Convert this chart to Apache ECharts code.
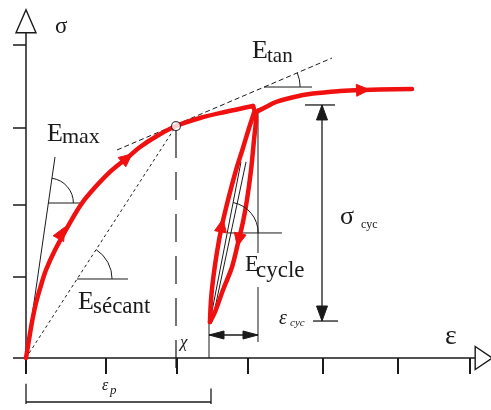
<!DOCTYPE html>
<html>
<head>
<meta charset="utf-8">
<script src="https://cdn.jsdelivr.net/npm/echarts@6/dist/echarts.min.js"></script>
<style>
  html, body { margin: 0; padding: 0; background: #ffffff; }
  #chart { width: 491px; height: 410px; }
</style>
</head>
<body>
<div id="chart"></div>
<script>
// ---- axis ticks (strain ε along x, stress σ along y) ----
const strainTicks = [0, 1.08, 2.04, 3.0, 4.01, 5.03, 6.0];
const stressTicks = [0, 1.04, 1.97, 2.95, 4.01];
const X_MAX = 6.07;
const Y_MAX = 4.17;

// ---- stress–strain path ----
const loadingBranch = [
  [0, 0], [0.040, 0.231], [0.081, 0.462], [0.135, 0.705], [0.196, 0.910],
  [0.270, 1.128], [0.392, 1.385], [0.554, 1.667], [0.730, 1.949], [0.865, 2.115],
  [1.135, 2.385], [1.365, 2.564], [1.541, 2.705], [1.770, 2.846], [2.027, 2.974],
  [2.351, 3.077], [2.689, 3.154], [3.068, 3.231]
];
const unloadingBranch = [
  [3.068, 3.231], [3.108, 3.077], [3.081, 2.795], [3.041, 2.410], [2.986, 2.026],
  [2.932, 1.744], [2.865, 1.474], [2.784, 1.167], [2.662, 0.872], [2.554, 0.590],
  [2.486, 0.462]
];
const reloadingBranch = [
  [2.486, 0.462], [2.500, 0.744], [2.527, 1.000], [2.581, 1.359], [2.649, 1.705],
  [2.730, 2.026], [2.838, 2.410], [2.932, 2.692], [3.014, 2.949], [3.081, 3.141]
];
const plateauBranch = [
  [3.081, 3.141], [3.216, 3.205], [3.378, 3.282], [3.595, 3.340], [3.878, 3.390],
  [4.243, 3.423], [4.554, 3.436], [5.216, 3.449]
];
const secantPoint = [2.027, 2.974];

// direction arrows sitting on the path
const loadingArrows = [[0.48, 1.603], [1.365, 2.564]];
const unloadingArrows = [[2.875, 1.513]];
const reloadingArrows = [[2.645, 1.700]];
const plateauArrows = [[4.554, 3.436]];

// ---- moduli construction lines ----
const eMaxLine = [[0, 0], [0.392, 2.577]];
const eMaxBase = [[0.297, 1.987], [0.730, 1.987]];
const secantLine = [[0, 0], [2.027, 2.974]];
const secantBase = [[0.689, 1.013], [1.378, 1.013]];
const tangentLine = [[1.230, 2.667], [4.135, 3.846]];
const tangentBase = [[3.216, 3.474], [3.865, 3.474]];
const cycleLineA = [[2.486, 0.462], [2.905, 2.513]];
const cycleLineB = [[2.514, 0.462], [2.973, 2.513]];
const cycleBase = [[2.730, 1.603], [3.459, 1.603]];

// ---- markers and dimension lines ----
const chiMarker = [[2.027, 2.923], [2.027, -0.192]];
const peakDrop = [[3.135, 3.205], [3.135, 1.346]];
const peakDropLow = [[3.135, 0.910], [3.135, 0.205]];
const residualDrop = [[2.473, 0.462], [2.473, 0]];
const epsCycDim = [[2.473, 0.295], [3.135, 0.295]];
const sigmaCycDim = [[4.0, 3.244], [4.0, 0.474]];
const sigmaCycTop = [[3.770, 3.244], [4.176, 3.244]];
const sigmaCycBottom = [[3.878, 0.474], [4.216, 0.474]];
const epsPDim = [[0, -0.564], [2.5, -0.564]];
const epsPLeft = [[0, -0.33], [0, -0.59]];
const epsPRight = [[2.5, -0.39], [2.5, -0.59]];

const RED = '#f01010';
const INK = '#1a1a1a';
const SERIF = '"Liberation Serif", "DejaVu Serif", serif';

const chart = echarts.init(document.getElementById('chart'), null, { renderer: 'canvas' });

const seg = (data, extra) => ({
  type: 'line', data, symbol: 'none', clip: false, silent: true, z: 3,
  lineStyle: Object.assign({ color: INK, width: 1, type: 'solid' }, extra || {})
});
const redPath = (data, smooth) => ({
  type: 'line', data, symbol: 'none', smooth: smooth, clip: false, silent: true, z: 4,
  lineStyle: { color: RED, width: 4.5, cap: 'round', join: 'round' }
});

chart.setOption({
  animation: false,
  grid: { left: 26, right: 491 - 26 - X_MAX * 74, top: 358 - Y_MAX * 78, bottom: 52,
          containLabel: false, outerBoundsMode: 'none' },
  xAxis: {
    type: 'value', min: 0, max: X_MAX,
    axisLine: { show: true, onZero: false, lineStyle: { color: INK, width: 1.5 } },
    axisTick: { show: true, length: 16, customValues: strainTicks, lineStyle: { color: INK, width: 2 } },
    axisLabel: { show: false }, splitLine: { show: false }
  },
  yAxis: {
    type: 'value', min: 0, max: Y_MAX,
    axisLine: { show: true, onZero: false, lineStyle: { color: INK, width: 1.5 } },
    axisTick: { show: true, length: 13, customValues: stressTicks, lineStyle: { color: INK, width: 1.5 } },
    axisLabel: { show: false }, splitLine: { show: false }
  },
  series: [
    seg(eMaxLine), seg(eMaxBase),
    seg(secantLine, { type: [3, 3] }), seg(secantBase),
    seg(tangentLine, { type: [5, 3] }), seg(tangentBase),
    seg(cycleLineA), seg(cycleLineB), seg(cycleBase),
    seg(chiMarker, { type: [28, 14], width: 1.2 }),
    seg(peakDrop), seg(peakDropLow), seg(residualDrop),
    seg(epsCycDim, { width: 1.3 }), seg(sigmaCycDim, { width: 1.3 }),
    seg(sigmaCycTop, { width: 1.3 }), seg(sigmaCycBottom, { width: 1.3 }),
    seg(epsPDim, { width: 1.3 }), seg(epsPLeft, { width: 1.3 }), seg(epsPRight, { width: 1.3 }),
    redPath(loadingBranch, 0.35),
    redPath(unloadingBranch, 0.3),
    redPath(reloadingBranch, 0.3),
    redPath(plateauBranch, 0.4),
    {
      type: 'scatter', data: [secantPoint], symbol: 'circle', symbolSize: 9, clip: false, z: 6,
      silent: true, itemStyle: { color: '#ffffff', borderColor: INK, borderWidth: 1.2 }
    }
  ]
});

// ---- overlay: arrowheads, angle arcs and labels placed through the axes ----
const px = p => chart.convertToPixel({ gridIndex: 0 }, p);
const unit = (a, b) => { const dx = b[0] - a[0], dy = b[1] - a[1]; const l = Math.hypot(dx, dy) || 1; return [dx / l, dy / l]; };

function head(c, u, len, wid, style) {
  const nx = -u[1], ny = u[0];
  const tip = [c[0] + u[0] * len / 2, c[1] + u[1] * len / 2];
  const bx = c[0] - u[0] * len / 2, by = c[1] - u[1] * len / 2;
  return { type: 'polygon', z: 50, silent: true,
    shape: { points: [tip, [bx + nx * wid / 2, by + ny * wid / 2], [bx - nx * wid / 2, by - ny * wid / 2]] },
    style };
}

function headingOn(branch, p) {
  const q = px(p);
  let best = null, bd = Infinity;
  for (let i = 0; i < branch.length - 1; i++) {
    const a = px(branch[i]), b = px(branch[i + 1]);
    const vx = b[0] - a[0], vy = b[1] - a[1];
    const L2 = vx * vx + vy * vy || 1;
    let t = ((q[0] - a[0]) * vx + (q[1] - a[1]) * vy) / L2;
    t = Math.max(0, Math.min(1, t));
    const d = Math.hypot(a[0] + t * vx - q[0], a[1] + t * vy - q[1]);
    if (d < bd) { bd = d; best = unit(a, b); }
  }
  return best;
}

const graphics = [];
const redFill = { fill: RED, stroke: RED, lineWidth: 1 };
[[loadingBranch, loadingArrows], [unloadingBranch, unloadingArrows],
 [reloadingBranch, reloadingArrows], [plateauBranch, plateauArrows]].forEach(([br, arrows]) => {
  arrows.forEach(p => graphics.push(head(px(p), headingOn(br, p), 13, 12, redFill)));
});

const inkFill = { fill: INK, stroke: INK, lineWidth: 1 };
function dimensionHeads(dim, len, wid) {
  const a = px(dim[0]), b = px(dim[1]);
  const u = unit(a, b);
  graphics.push(head([a[0] + u[0] * len / 2, a[1] + u[1] * len / 2], [-u[0], -u[1]], len, wid, inkFill));
  graphics.push(head([b[0] - u[0] * len / 2, b[1] - u[1] * len / 2], u, len, wid, inkFill));
}
dimensionHeads(sigmaCycDim, 15, 11);
dimensionHeads(epsCycDim, 15, 8);

// hollow arrowheads closing both axes
const yTop = px([0, Y_MAX]);
const xEnd = px([X_MAX, 0]);
const hollow = { fill: '#ffffff', stroke: INK, lineWidth: 1.4 };
graphics.push({ type: 'polygon', z: 50, silent: true, style: hollow,
  shape: { points: [[yTop[0], yTop[1] - 23], [yTop[0] - 10, yTop[1]], [yTop[0] + 10, yTop[1]]] } });
graphics.push({ type: 'polygon', z: 50, silent: true, style: hollow,
  shape: { points: [[xEnd[0] + 17, xEnd[1]], [xEnd[0], xEnd[1] - 11.5], [xEnd[0], xEnd[1] + 11.5]] } });

// angle arcs between each modulus line and its horizontal reference
function angleMark(line, base, r) {
  const a = line[0], b = line[1], y = base[0][1];
  const t = (y - a[1]) / (b[1] - a[1]);
  const c = px([a[0] + t * (b[0] - a[0]), y]);
  const pa = px(a), pb = px(b);
  const ang = Math.atan2(pb[1] - pa[1], pb[0] - pa[0]);
  return { type: 'arc', z: 50, silent: true,
    shape: { cx: c[0], cy: c[1], r, startAngle: ang, endAngle: 0, clockwise: true },
    style: { stroke: INK, lineWidth: 1, fill: null } };
}
graphics.push(angleMark(eMaxLine, eMaxBase, 25));
graphics.push(angleMark(secantLine, secantBase, 35));
graphics.push(angleMark(tangentLine, tangentBase, 36));
graphics.push(angleMark(cycleLineA, cycleBase, 31));

// labels
const labels = [
  { t: 'σ', at: [0.392, 4.238], size: 23 },
  { t: 'ε', at: [5.662, 0.274], size: 28 },
  { t: 'E', at: [0.284, 2.872], size: 26 }, { t: 'max', at: [0.486, 2.833], size: 22 },
  { t: 'E', at: [0.703, 0.712], size: 26 }, { t: 'sécant', at: [0.905, 0.654], size: 23 },
  { t: 'E', at: [3.054, 3.936], size: 26 }, { t: 'tan', at: [3.257, 3.864], size: 21 },
  { t: 'E', at: [2.959, 1.192], size: 23 }, { t: 'cycle', at: [3.108, 1.121], size: 23 },
  { t: 'σ', at: [4.243, 1.808], size: 26 }, { t: 'cyc', at: [4.527, 1.705], size: 12 },
  { t: 'ε', at: [3.419, 0.506], size: 20, italic: true }, { t: 'cyc', at: [3.568, 0.449], size: 11, italic: true },
  { t: 'χ', at: [2.081, 0.192], size: 17, italic: true },
  { t: 'ε', at: [1.027, -0.355], size: 16, italic: true }, { t: 'p', at: [1.135, -0.418], size: 13, italic: true }
];
labels.forEach(l => {
  const p = px(l.at);
  graphics.push({ type: 'text', z: 60, silent: true, x: p[0], y: p[1],
    style: { text: l.t, fontFamily: SERIF, fontSize: l.size, fontStyle: l.italic ? 'italic' : 'normal',
             fill: INK, align: 'left', verticalAlign: 'middle' } });
});

chart.setOption({ graphic: { elements: graphics } });
</script>
</body>
</html>
